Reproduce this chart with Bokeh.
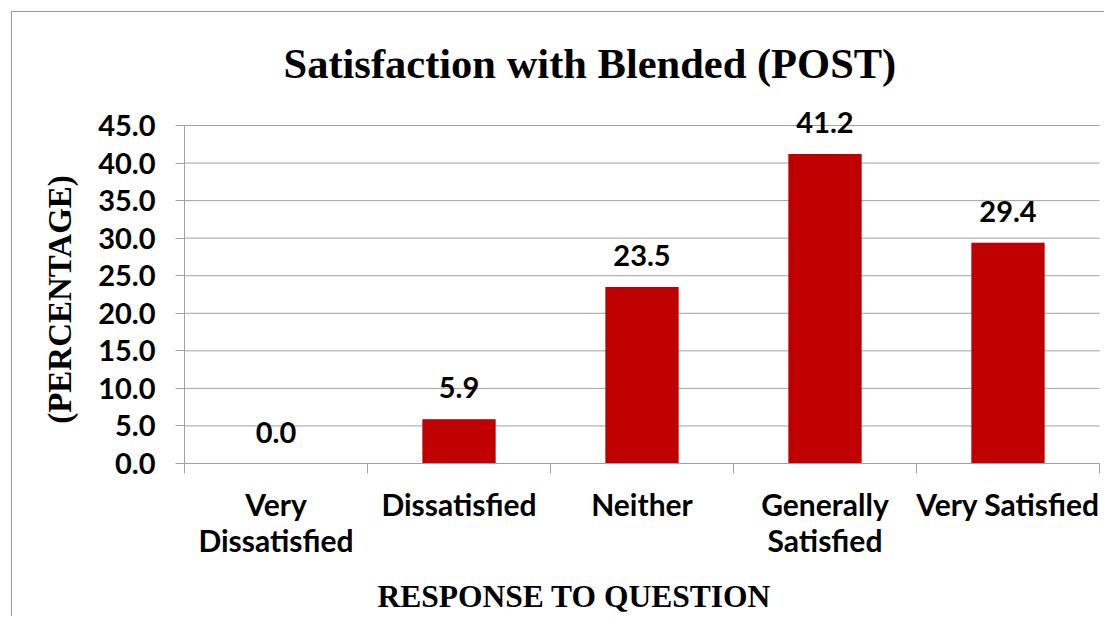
import math
from bokeh.plotting import figure
from bokeh.models import Range1d, FixedTicker, NumeralTickFormatter, Label, ColumnDataSource, LabelSet
from bokeh.core.properties import value
from bokeh.embed import file_html
from bokeh.resources import INLINE

categories = ["Very Dissatisfied", "Dissatisfied", "Neither", "Generally Satisfied", "Very Satisfied"]
tick_labels = ["Very\nDissatisfied", "Dissatisfied", "Neither", "Generally\nSatisfied", "Very Satisfied"]
percentages = [0.0, 5.9, 23.5, 41.2, 29.4]
y_ticks = [0, 5, 10, 15, 20, 25, 30, 35, 40, 45]

title_text = "Satisfaction with Blended (POST)"
x_label = "RESPONSE TO QUESTION"
y_label = "(PERCENTAGE)"

n = len(categories)
y_top = y_ticks[-1]
xs = [i + 0.5 for i in range(n)]
src = ColumnDataSource(dict(
    x=xs,
    top=percentages,
    label=[f"{v:.1f}" for v in percentages],
))

# layout (pixels): canvas size, axis origin inside canvas, pixel size of one category / one unit
W, H = 1093, 605
ORIGIN_X, ORIGIN_Y = 172, 451          # from canvas left / canvas top
PX_PER_CAT = 183.0
PX_PER_UNIT = 338.0 / 45.0
x_min = -ORIGIN_X / PX_PER_CAT
x_max = x_min + W / PX_PER_CAT
y_max = ORIGIN_Y / PX_PER_UNIT
y_min = y_max - H / PX_PER_UNIT

p = figure(width=W, height=H, output_backend="svg", toolbar_location=None,
           x_range=Range1d(x_min, x_max), y_range=Range1d(y_min, y_max), min_border=0)
p.margin = (11, 0, 0, 11)
p.styles = {"border-left": "1px solid #9a9a9a", "border-top": "1px solid #9a9a9a"}
p.outline_line_color = None
p.background_fill_color = "white"
p.border_fill_color = "white"
p.xgrid.visible = False
p.ygrid.visible = False

# horizontal gridlines at the y ticks, across the category span
p.segment(x0=[0] * len(y_ticks), x1=[n] * len(y_ticks), y0=y_ticks, y1=y_ticks,
          line_color="#a0a0a0", line_width=1)

# shadow + bars
p.vbar(x="x", top="top", width=0.4, source=src, fill_color="black", fill_alpha=0.18,
       line_color=None)
p.vbar(x="x", top="top", width=0.4, source=src, fill_color="#C00000", line_color=None)

labels = LabelSet(x="x", y="top", text="label", source=src, text_align="center",
                  text_baseline="alphabetic", y_offset=21, text_font=value("Lato"),
                  text_font_style="bold", text_font_size="29px", text_color="black")
p.add_layout(labels)

# x axis at y = 0
xa = p.xaxis[0]
xa.fixed_location = 0
xa.bounds = (0, n)
xa.ticker = FixedTicker(ticks=xs, minor_ticks=list(range(n + 1)))
xa.major_label_overrides = {x: t for x, t in zip(xs, tick_labels)}
xa.major_tick_line_color = None
xa.minor_tick_line_color = "#a0a0a0"
xa.minor_tick_out = 10
xa.minor_tick_in = 0
xa.axis_line_color = "#a0a0a0"
xa.major_label_text_font = "Lato"
xa.major_label_text_font_style = "bold"
xa.major_label_text_font_size = "30px"
xa.major_label_text_line_height = 1.0
xa.major_label_text_color = "black"
xa.major_label_standoff = 12

# y axis at x = 0
ya = p.yaxis[0]
ya.fixed_location = 0
ya.bounds = (0, y_top)
ya.ticker = FixedTicker(ticks=y_ticks)
ya.formatter = NumeralTickFormatter(format="0.0")
ya.minor_tick_line_color = None
ya.major_tick_line_color = "#a0a0a0"
ya.major_tick_out = 9
ya.major_tick_in = 0
ya.axis_line_color = "#a0a0a0"
ya.major_label_text_font = "Lato"
ya.major_label_text_font_style = "bold"
ya.major_label_text_font_size = "29px"
ya.major_label_text_color = "black"
ya.major_label_standoff = 20

# titles (screen units from the canvas' bottom-left corner)
p.add_layout(Label(x=271, y=554, x_units="screen", y_units="screen", text=title_text,
                   text_align="left", text_baseline="middle", text_font="Liberation Serif",
                   text_font_style="bold", text_font_size="42.5px", text_color="black"))
p.add_layout(Label(x=365, y=21, x_units="screen", y_units="screen", text=x_label,
                   text_align="left", text_baseline="middle", text_font="Liberation Serif",
                   text_font_style="bold", text_font_size="31.5px", text_color="black"))
p.add_layout(Label(x=47, y=318, x_units="screen", y_units="screen", text=y_label,
                   angle=math.pi / 2, text_align="center", text_baseline="middle",
                   text_font="Liberation Serif", text_font_style="bold",
                   text_font_size="33px", text_color="black"))

open("out.html", "w").write(file_html(p, INLINE))
